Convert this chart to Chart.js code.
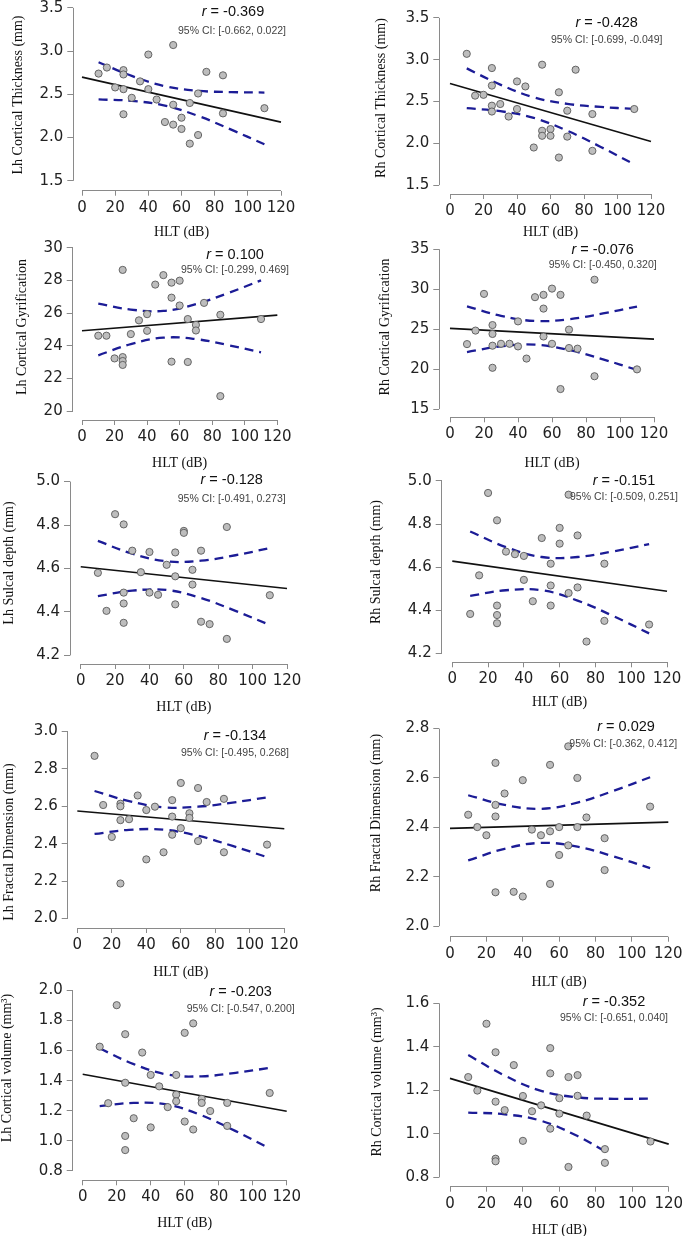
<!DOCTYPE html>
<html><head><meta charset="utf-8">
<script src="https://cdn.jsdelivr.net/npm/chart.js@4.4.0/dist/chart.umd.min.js"></script>
<style>
html,body{margin:0;padding:0;background:#fff;}
body{width:685px;height:1236px;position:relative;overflow:hidden;}
canvas{position:absolute;}
</style></head><body>
<script>
// ---------- DATA ----------
const hlt = [10,15,20,25,25,25,25,30,35,40,40,45,50,55,55,55,60,60,65,65,70,70,75,85,85,110];
const xTickLabels = ['0','20','40','60','80','100','120'];
const fitX = [0,120];
const bandX = [10,30,50,70,90,110];
const rhVolLowerX = [10,30,50,70,85];

const lhThick = [2.74,2.81,2.58,2.78,2.73,2.56,2.27,2.46,2.65,2.96,2.56,2.44,2.18,3.07,2.38,2.15,2.23,2.10,2.40,1.93,2.51,2.03,2.76,2.72,2.28,2.34];
const lhThickFit = [2.699,2.179];
const lhThickUpper = [2.871,2.713,2.594,2.541,2.526,2.521];
const lhThickLower = [2.441,2.425,2.370,2.251,2.092,1.923];
const thickTicks = ['1.5','2.0','2.5','3.0','3.5'];

const rhThick = [3.07,2.57,2.58,2.90,2.69,2.45,2.38,2.47,2.32,2.74,2.41,2.68,1.95,2.94,2.15,2.09,2.17,2.09,2.61,1.83,2.39,2.08,2.88,2.35,1.91,2.41];
const rhThickFit = [2.716,2.022];
const rhThickUpper = [2.896,2.702,2.550,2.472,2.435,2.411];
const rhThickLower = [2.420,2.384,2.304,2.150,1.957,1.749];

const lhGyr = [24.62,24.62,23.23,28.65,23.31,23.07,22.83,24.72,25.56,25.94,24.92,27.75,28.33,27.87,26.95,23.03,27.99,26.47,25.64,23.01,25.28,24.94,26.63,25.90,20.92,25.64];
const lhGyrFit = [24.92,25.88];
const lhGyrUpper = [26.58,26.22,26.14,26.55,27.24,28.01];
const lhGyrLower = [23.42,24.10,24.50,24.41,24.04,23.60];
const lhGyrTicks = ['20','22','24','26','28','30'];

const rhGyr = [23.13,24.82,29.41,25.51,24.40,22.93,20.17,23.17,23.17,25.97,22.84,21.32,29.00,29.29,27.57,24.08,30.07,23.17,29.29,17.51,24.94,22.64,22.56,31.18,19.11,19.97];
const rhGyrFit = [25.10,23.75];
const rhGyrUpper = [27.84,26.67,26.02,26.24,26.96,27.82];
const rhGyrLower = [22.14,22.85,23.06,22.39,21.22,19.90];
const rhGyrTicks = ['15','20','25','30','35'];

const lhSulc = [4.580,4.405,4.850,4.803,4.489,4.439,4.350,4.682,4.583,4.676,4.489,4.479,4.617,4.674,4.564,4.435,4.773,4.764,4.594,4.526,4.682,4.355,4.344,4.791,4.276,4.477];
const lhSulcFit = [4.608,4.508];
const lhSulcUpper = [4.727,4.668,4.633,4.636,4.661,4.694];
const lhSulcLower = [4.473,4.498,4.501,4.464,4.405,4.340];
const sulcTicks = ['4.2','4.4','4.6','4.8','5.0'];

const rhSulc = [4.383,4.562,4.944,4.817,4.422,4.378,4.340,4.672,4.660,4.652,4.541,4.442,4.735,4.616,4.515,4.422,4.782,4.709,4.936,4.480,4.747,4.506,4.255,4.616,4.351,4.334];
const rhSulcFit = [4.628,4.488];
const rhSulcUpper = [4.765,4.693,4.647,4.647,4.673,4.707];
const rhSulcLower = [4.467,4.493,4.493,4.445,4.373,4.293];

const lhFD = [2.870,2.607,2.436,2.614,2.600,2.526,2.187,2.531,2.658,2.316,2.580,2.598,2.354,2.633,2.545,2.448,2.725,2.483,2.563,2.538,2.698,2.414,2.623,2.640,2.354,2.395];
const lhFDFit = [2.575,2.480];
const lhFDUpper = [2.682,2.628,2.595,2.598,2.620,2.648];
const lhFDLower = [2.452,2.474,2.475,2.442,2.388,2.328];
const lhFDTicks = ['2.0','2.2','2.4','2.6','2.8','3.0'];

const rhFD = [2.451,2.401,2.368,2.661,2.491,2.444,2.137,2.537,2.139,2.591,2.120,2.391,2.368,2.653,2.384,2.171,2.401,2.288,2.327,2.728,2.600,2.401,2.440,2.356,2.227,2.484];
const rhFDFit = [2.396,2.421];
const rhFDUpper = [2.530,2.491,2.475,2.500,2.548,2.603];
const rhFDLower = [2.266,2.313,2.337,2.322,2.282,2.235];
const rhFDTicks = ['2.0','2.2','2.4','2.6','2.8'];

const lhVol = [1.626,1.250,1.902,1.709,1.386,1.032,0.938,1.150,1.587,1.438,1.089,1.362,1.224,1.438,1.307,1.263,1.718,1.128,1.781,1.075,1.279,1.252,1.198,1.252,1.099,1.318];
const lhVolFit = [1.443,1.196];
const lhVolUpper = [1.614,1.510,1.440,1.429,1.452,1.485];
const lhVolLower = [1.230,1.252,1.240,1.169,1.064,0.949];
const lhVolTicks = ['0.8','1.0','1.2','1.4','1.6','1.8','2.0'];

const rhVol = [1.261,1.199,1.506,1.375,1.148,0.886,0.874,1.109,1.316,1.174,0.968,1.104,1.131,1.394,1.278,1.024,1.164,1.093,1.261,0.848,1.270,1.175,1.084,0.930,0.867,0.965];
const rhVolFit = [1.255,0.953];
const rhVolUpper = [1.362,1.268,1.198,1.168,1.161,1.162];
const rhVolLower = [1.098,1.090,1.060,0.990,0.920];
const rhVolTicks = ['0.8','1.0','1.2','1.4','1.6'];

// ---------- PANELS (text) ----------
const panels = [
 {y:lhThick, fit:lhThickFit, up:lhThickUpper, lo:lhThickLower, ticks:thickTicks, title:'Lh Cortical Thickness (mm)', r:'-0.369', ci:'95% CI: [-0.662, 0.022]'},
 {y:rhThick, fit:rhThickFit, up:rhThickUpper, lo:rhThickLower, ticks:thickTicks, title:'Rh Cortical Thickness (mm)', r:'-0.428', ci:'95% CI: [-0.699, -0.049]'},
 {y:lhGyr, fit:lhGyrFit, up:lhGyrUpper, lo:lhGyrLower, ticks:lhGyrTicks, title:'Lh Cortical Gyrification', r:'0.100', ci:'95% CI: [-0.299, 0.469]'},
 {y:rhGyr, fit:rhGyrFit, up:rhGyrUpper, lo:rhGyrLower, ticks:rhGyrTicks, title:'Rh Cortical Gyrification', r:'-0.076', ci:'95% CI: [-0.450, 0.320]'},
 {y:lhSulc, fit:lhSulcFit, up:lhSulcUpper, lo:lhSulcLower, ticks:sulcTicks, title:'Lh Sulcal depth (mm)', r:'-0.128', ci:'95% CI: [-0.491, 0.273]'},
 {y:rhSulc, fit:rhSulcFit, up:rhSulcUpper, lo:rhSulcLower, ticks:sulcTicks, title:'Rh Sulcal depth (mm)', r:'-0.151', ci:'95% CI: [-0.509, 0.251]'},
 {y:lhFD, fit:lhFDFit, up:lhFDUpper, lo:lhFDLower, ticks:lhFDTicks, title:'Lh Fractal Dimension (mm)', r:'-0.134', ci:'95% CI: [-0.495, 0.268]'},
 {y:rhFD, fit:rhFDFit, up:rhFDUpper, lo:rhFDLower, ticks:rhFDTicks, title:'Rh Fractal Dimension (mm)', r:'0.029', ci:'95% CI: [-0.362, 0.412]'},
 {y:lhVol, fit:lhVolFit, up:lhVolUpper, lo:lhVolLower, ticks:lhVolTicks, title:'Lh Cortical volume (mm\u00B3)', r:'-0.203', ci:'95% CI: [-0.547, 0.200]'},
 {y:rhVol, fit:rhVolFit, up:rhVolUpper, lo:rhVolLower, loX:rhVolLowerX, ticks:rhVolTicks, title:'Rh Cortical volume (mm\u00B3)', r:'-0.352', ci:'95% CI: [-0.651, 0.040]'}
];

// ---------- LAYOUT (page pixels) ----------
const layout = [
 {L:73.3, x0:82, x120:281, Yt:5, Yb:180.7, B:190.7, hlt:232, tx:18, ty:95, rx:233, ry:12, cx:232, cy:30.7},
 {L:439.3, x0:450, x120:651, Yt:15, Yb:185, B:194, hlt:232, tx:381.7, ty:98, rx:606.7, ry:22.7, cx:606.7, cy:40},
 {L:72.7, x0:82, x120:277.3, Yt:245, Yb:411, B:420, hlt:463, tx:22.7, ty:327, rx:235, ry:255, cx:235, cy:270},
 {L:439.3, x0:450, x120:654, Yt:246.7, Yb:409, B:417.3, hlt:463, tx:385.7, ty:327, rx:602.7, ry:250, cx:602.7, cy:265},
 {L:70, x0:80.7, x120:287, Yt:479.3, Yb:655.3, B:664, hlt:707, tx:9.3, ty:563, rx:231.7, ry:480, cx:231.7, cy:498.7},
 {L:441.7, x0:452.3, x120:667, Yt:478.3, Yb:653.3, B:662.3, hlt:702, tx:376.7, ty:562, rx:624, ry:480.7, cx:624, cy:497.3},
 {L:67.7, x0:77.3, x120:284.3, Yt:729.3, Yb:918.3, B:928, hlt:972, tx:9.3, ty:842, rx:235, ry:736, cx:235, cy:753.3},
 {L:439.3, x0:450, x120:668.3, Yt:726, Yb:926, B:936.7, hlt:982, tx:376.7, ty:813, rx:626, ry:726.7, cx:623.3, cy:744},
 {L:72.7, x0:82.7, x120:286.7, Yt:987.7, Yb:1170.7, B:1180.3, hlt:1223, tx:7.3, ty:1068, rx:240.7, ry:992.3, cx:240.7, cy:1009},
 {L:439.3, x0:450, x120:668.7, Yt:1001, Yb:1177.3, B:1186.7, hlt:1230, tx:377.3, ty:1082, rx:614, ry:1002.3, cx:614, cy:1017.7}
];

const BLUE = '#1c1c96';
const AXIS = '#8a8a8a';
const pts = (xs, ys) => xs.map((x, k) => ({x: x, y: ys[k]}));

panels.forEach((p, i) => {
  const L = layout[i];
  const tv = p.ticks.map(Number);
  const ymin = Math.min(...tv), ymax = Math.max(...tv);
  const pxu = (L.x120 - L.x0) / 120;
  const gapX = L.x0 - L.L;
  const pyu = (L.Yb - L.Yt) / (ymax - ymin);
  const gapY = L.B - L.Yb;
  const top = L.Yt - gapY;
  const right = L.x120 + gapX;
  const cl = Math.floor(L.L - 75);
  const ct = Math.floor(top - 10);
  const yw = L.L - cl;
  const pt = top - ct;
  const cw = Math.ceil(right + 20 - cl);
  const pr = cw - (right - cl);
  const ch = Math.ceil(L.hlt + 8.4 - ct);
  const hx = ch - (L.B - ct);

  const cv = document.createElement('canvas');
  cv.width = cw; cv.height = ch;
  cv.style.left = cl + 'px'; cv.style.top = ct + 'px';
  document.body.appendChild(cv);

  const deco = {
    id: 'deco' + i,
    afterDraw(chart) {
      const {ctx, chartArea, scales} = chart;
      const sx = scales.x, sy = scales.y;
      ctx.save();
      ctx.strokeStyle = AXIS; ctx.lineWidth = 1;
      const by = Math.round(chartArea.bottom - 0.5) + 0.5;
      const lx = Math.round(chartArea.left - 0.5) + 0.5;
      ctx.beginPath();
      ctx.moveTo(sx.getPixelForValue(Number(xTickLabels[0])), by);
      ctx.lineTo(sx.getPixelForValue(Number(xTickLabels[xTickLabels.length - 1])), by);
      ctx.moveTo(lx, sy.getPixelForValue(ymin));
      ctx.lineTo(lx, sy.getPixelForValue(ymax));
      ctx.stroke();
      // y title
      ctx.fillStyle = '#111';
      ctx.font = '14px "Liberation Serif"';
      ctx.textAlign = 'center'; ctx.textBaseline = 'middle';
      ctx.translate(L.tx - cl, L.ty - ct);
      ctx.rotate(-Math.PI / 2);
      ctx.fillText(p.title, 0, 0);
      ctx.setTransform(chart.currentDevicePixelRatio, 0, 0, chart.currentDevicePixelRatio, 0, 0);
      // r text
      const f1 = 'italic 14.5px "Liberation Sans"', f2 = '14.5px "Liberation Sans"';
      const rest = ' = ' + p.r;
      ctx.font = f1; const w1 = ctx.measureText('r').width;
      ctx.font = f2; const w2 = ctx.measureText(rest).width;
      const sx0 = L.rx - cl - (w1 + w2) / 2;
      ctx.textAlign = 'left';
      ctx.fillStyle = '#111';
      ctx.font = f1; ctx.fillText('r', sx0, L.ry - ct);
      ctx.font = f2; ctx.fillText(rest, sx0 + w1, L.ry - ct);
      // CI text
      ctx.fillStyle = '#444';
      ctx.font = '10.5px "Liberation Sans"';
      ctx.textAlign = 'center';
      ctx.fillText(p.ci, L.cx - cl, L.cy - ct);
      ctx.restore();
    }
  };

  new Chart(cv, {
    type: 'scatter',
    data: {
      datasets: [
        {data: pts(hlt, p.y), pointRadius: 3.6, pointBackgroundColor: '#bdbdbd', pointBorderColor: '#595959', pointBorderWidth: 0.9, showLine: false},
        {data: pts(fitX, p.fit), showLine: true, borderColor: '#111', borderWidth: 1.6, pointRadius: 0},
        {data: pts(bandX, p.up), showLine: true, borderColor: BLUE, borderWidth: 2.3, borderDash: [9, 6], pointRadius: 0, tension: 0.4},
        {data: pts(p.loX || bandX, p.lo), showLine: true, borderColor: BLUE, borderWidth: 2.3, borderDash: [9, 6], pointRadius: 0, tension: 0.4}
      ]
    },
    options: {
      responsive: false, animation: false, events: [],
      layout: {padding: {left: 0, top: pt, right: pr, bottom: 0}},
      plugins: {legend: {display: false}, tooltip: {enabled: false}},
      scales: {
        x: {
          type: 'linear', min: -gapX / pxu, max: 120 + gapX / pxu,
          afterBuildTicks: ax => { ax.ticks = xTickLabels.map(v => ({value: Number(v)})); },
          afterFit: s => { s.height = hx; },
          ticks: {callback: (v, idx) => xTickLabels[idx], autoSkip: false, maxRotation: 0, minRotation: 0, padding: 3, color: '#222', font: {family: 'DejaVu Sans', size: 15}},
          grid: {drawOnChartArea: false, drawTicks: true, tickLength: 5, color: AXIS},
          border: {display: false},
          title: {display: true, text: 'HLT (dB)', color: '#111', padding: 0, font: {family: 'Liberation Serif', size: 14}}
        },
        y: {
          type: 'linear', min: ymin - gapY / pyu, max: ymax + gapY / pyu,
          afterBuildTicks: ax => { ax.ticks = p.ticks.map(v => ({value: Number(v)})); },
          afterFit: s => { s.width = yw; },
          ticks: {callback: (v, idx) => p.ticks[idx], autoSkip: false, padding: 4, color: '#222', font: {family: 'DejaVu Sans', size: 15}},
          grid: {drawOnChartArea: false, drawTicks: true, tickLength: 6, color: AXIS},
          border: {display: false}
        }
      }
    },
    plugins: [deco]
  });
});
</script>
</body></html>
